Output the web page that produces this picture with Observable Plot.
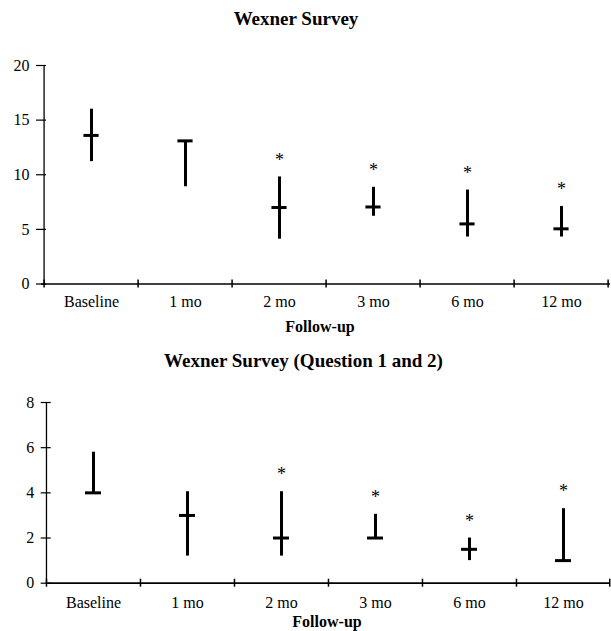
<!DOCTYPE html>
<html><head><meta charset="utf-8">
<script src="https://cdn.jsdelivr.net/npm/d3@7"></script>
<script src="https://cdn.jsdelivr.net/npm/@observablehq/plot@0.6"></script>
<style>
body{margin:0;background:#fff;}
#page{position:relative;width:611px;height:631px;font-family:"Liberation Serif","Times New Roman",serif;color:#000;overflow:hidden;}
.t{position:absolute;width:611px;text-align:center;font-weight:bold;white-space:nowrap;}
#page svg{position:absolute;left:0;}
</style></head><body><div id="page"></div>
<script>
// ---- data ----
const categories = ["Baseline", "1 mo", "2 mo", "3 mo", "6 mo", "12 mo"];
const significant = [false, false, true, true, true, true];

const totalTitle = "Wexner Survey";
const totalMin    = [11.2, 8.9, 4.1, 6.2, 4.3, 4.3];
const totalMax    = [16.0, 13.1, 9.8, 8.85, 8.6, 7.1];
const totalMedian = [13.6, 13.1, 7.0, 7.05, 5.5, 5.05];
const totalTicks  = [0, 5, 10, 15, 20];

const q12Title = "Wexner Survey (Question 1 and 2)";
const q12Min    = [4.0, 1.2, 1.2, 2.0, 1.0, 1.0];
const q12Max    = [5.8, 4.05, 4.05, 3.05, 2.0, 3.3];
const q12Median = [4.0, 3.0, 2.0, 2.0, 1.5, 1.0];
const q12Ticks  = [0, 2, 4, 6, 8];

const xLabel = "Follow-up";

const page = document.getElementById("page");

function addText(txt, size, top, left) {
  const d = document.createElement("div");
  d.className = "t";
  d.textContent = txt;
  d.style.fontSize = size + "px";
  d.style.lineHeight = size + "px";
  d.style.top = top + "px";
  d.style.left = left + "px";
  page.appendChild(d);
}

function panel({top, height, marginTop, marginBottom, marginLeft, ticks, mins, maxs, medians, labelPad}) {
  const width = 611, marginRight = 1;
  const yMax = ticks[ticks.length - 1];
  const bw = (width - marginLeft - marginRight) / categories.length;
  const tickW = 16;
  const rows = categories.map((c, i) => ({cat: c, lo: mins[i], hi: maxs[i], med: medians[i], sig: significant[i]}));
  const svg = Plot.plot({
    width, height, marginTop, marginBottom, marginLeft, marginRight,
    style: {fontFamily: "Liberation Serif, Times New Roman, serif", fontSize: "16px", color: "#000", background: "white"},
    x: {type: "band", domain: categories, padding: 0, label: null},
    y: {domain: [0, yMax], label: null},
    marks: [
      Plot.ruleX([categories[0]], {x: d => d, y1: 0, y2: yMax, dx: -bw / 2, stroke: "#000", strokeWidth: 1.3}),
      Plot.ruleY([0], {stroke: "#000", strokeWidth: 1.7}),
      Plot.axisY({ticks, anchor: "left", tickSize: 10, dx: 5, tickPadding: 7, fontSize: 16, label: null, strokeWidth: 1.2}),
      Plot.axisX({ticks: categories, anchor: "bottom", tickSize: 8, dy: -4, dx: -bw / 2, tickFormat: () => "", label: null, strokeWidth: 1.5}),
      Plot.axisX({ticks: [categories[categories.length - 1]], anchor: "bottom", tickSize: 8, dy: -4, dx: bw / 2 - 0.8, tickFormat: () => "", label: null, strokeWidth: 1.5}),
      Plot.axisX({anchor: "bottom", tickSize: 0, tickPadding: labelPad, fontSize: 16, label: null}),
      Plot.ruleX(rows, {x: "cat", y1: "lo", y2: "hi", stroke: "#000", strokeWidth: 3}),
      Plot.tickY(rows, {x: "cat", y: "med", stroke: "#000", strokeWidth: 3, inset: (bw - tickW) / 2}),
      Plot.text(rows.filter(d => d.sig), {x: "cat", y: "hi", text: () => "*", dy: -17, fontSize: 18, fill: "#000"})
    ]
  });
  svg.style.top = top + "px";
  page.appendChild(svg);
}

panel({top: 40, height: 270, marginTop: 25, marginBottom: 26.5, marginLeft: 41,
       ticks: totalTicks, mins: totalMin, maxs: totalMax, medians: totalMedian, labelPad: 12});
panel({top: 380, height: 232, marginTop: 22, marginBottom: 29.3, marginLeft: 45.7,
       ticks: q12Ticks, mins: q12Min, maxs: q12Max, medians: q12Median, labelPad: 13});

addText(totalTitle, 19, 9, -9.5);
addText(xLabel, 16, 318.6, 14.5);
addText(q12Title, 19, 351, -2);
addText(xLabel, 16, 613.6, 21.5);
</script>
</body></html>
